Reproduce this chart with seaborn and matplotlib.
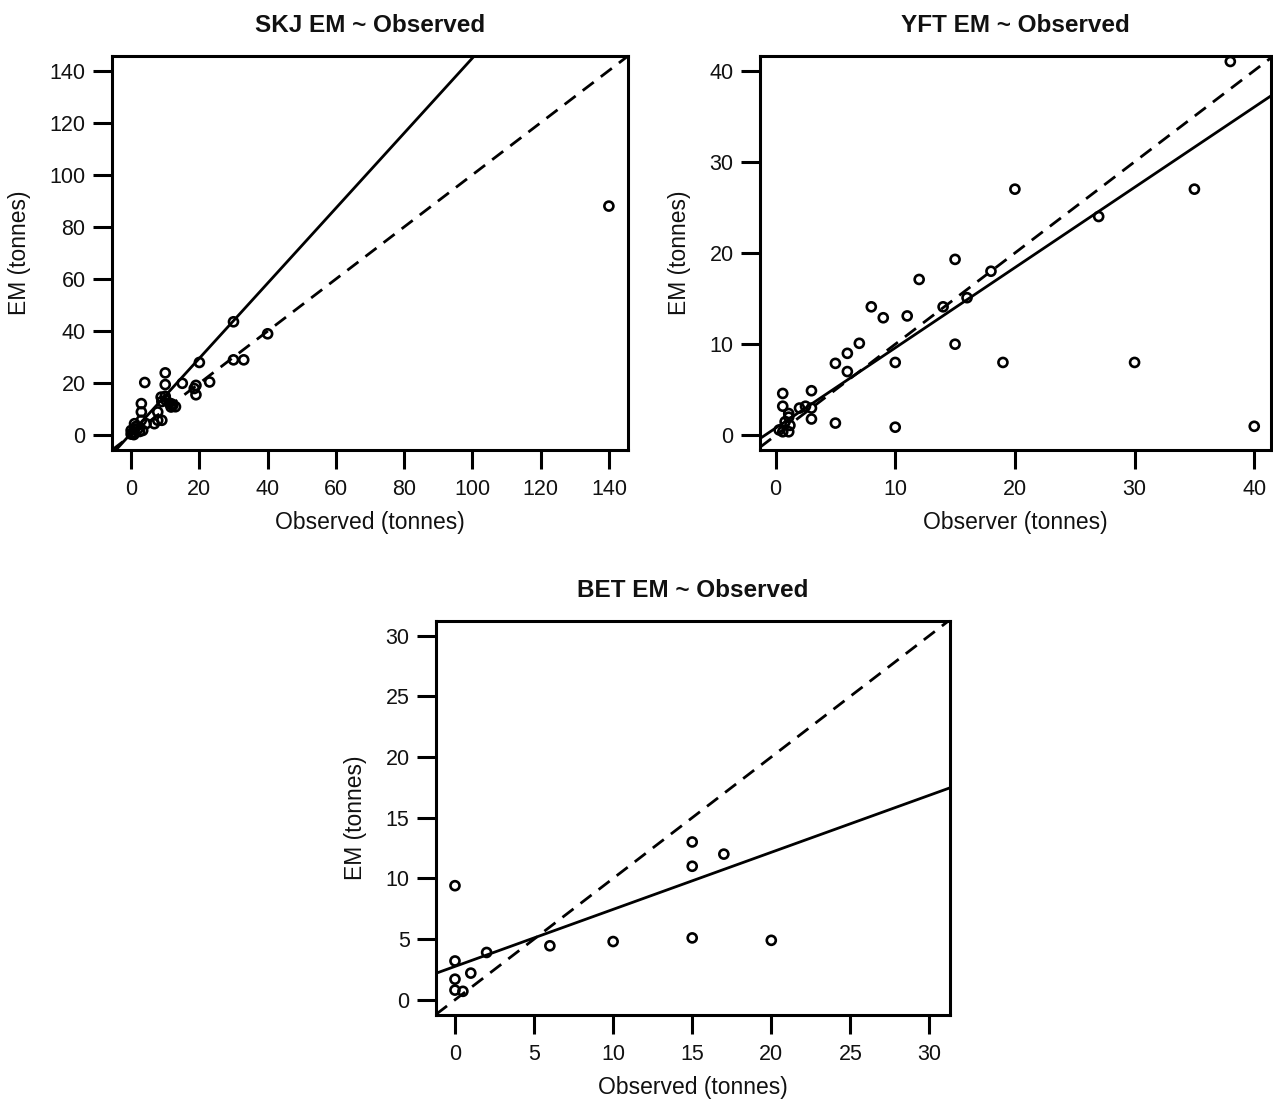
import matplotlib
matplotlib.use("Agg")
import matplotlib.pyplot as plt
import seaborn as sns
import pandas as pd

sns.set_style("white")
plt.rcParams['font.family'] = ['Liberation Sans', 'DejaVu Sans']

# ---- data ----
skj_obs = [140, 30, 40, 30, 33, 23, 20, 19, 19, 18.5, 15, 10, 10, 4, 8.8, 10.2, 11.2, 12.2, 11.7,
           10, 9, 3, 3, 7.8, 7.8, 6.8, 9, 3, 3.4, 1, 0, 0, 4.4, 0.5, 1, 2, 0.3, 1.5, 0.8, 2.5, 12, 13]
skj_em = [88, 43.6, 39, 29, 29, 20.5, 28, 19.2, 15.6, 18, 20, 24, 19.5, 20.3, 14.7, 13.5, 12.4, 11.5, 10.9,
          15, 13, 12.2, 9, 9, 5.8, 4.5, 5.8, 5.8, 1.9, 4.5, 1.9, 0.5, 4.5, 1, 2.5, 2.5, 0.8, 3.5, 0.3, 1.5, 12, 11]

yft_obs = [38, 20, 35, 27, 19, 30, 40, 15, 18, 12, 16, 14, 8, 9, 11, 7, 15, 6, 5, 10, 6, 0.6, 3, 0.6,
           2, 2.5, 3, 1.1, 1.1, 3, 5, 10, 1.2, 0.3, 0.6, 1.1, 0.8]
yft_em = [41, 27, 27, 24, 8, 8, 1, 19.3, 18, 17.1, 15.1, 14.1, 14.1, 12.9, 13.1, 10.1, 10, 9, 7.9, 8, 7,
          4.6, 4.9, 3.2, 3, 3.2, 3, 2.4, 2.0, 1.8, 1.35, 0.9, 1.1, 0.6, 0.4, 0.4, 1.5]

bet_obs = [0, 0, 0, 0, 0.5, 1, 2, 6, 10, 15, 15, 17, 15, 20]
bet_em = [9.4, 3.2, 1.7, 0.8, 0.7, 2.2, 3.9, 4.45, 4.8, 13, 11, 12, 5.1, 4.9]

# fitted lines (intercept, slope)
skj_fit = (0.8, 1.44)
yft_fit = (0.8, 0.88)
bet_fit = (2.75, 0.47)

panels = [
    dict(title="SKJ EM ~ Observed", x=skj_obs, y=skj_em, fit=skj_fit,
         xlabel="Observed (tonnes)", ticks=[0, 20, 40, 60, 80, 100, 120, 140],
         lim=(-5.6, 145.6), pos=[112, 56, 628, 450]),
    dict(title="YFT EM ~ Observed", x=yft_obs, y=yft_em, fit=yft_fit,
         xlabel="Observer (tonnes)", ticks=[0, 10, 20, 30, 40],
         lim=(-1.3, 41.4), ylim=(-1.6, 41.6), pos=[760, 56, 1271, 450]),
    dict(title="BET EM ~ Observed", x=bet_obs, y=bet_em, fit=bet_fit,
         xlabel="Observed (tonnes)", ticks=[0, 5, 10, 15, 20, 25, 30],
         lim=(-1.2, 31.3), ylim=(-1.25, 31.2), pos=[436, 621, 950, 1015]),
]

W, H = 1273, 1102
fig = plt.figure(figsize=(W / 100, H / 100), dpi=100)

for p in panels:
    l, t, r, b = p["pos"]
    ax = fig.add_axes([l / W, 1 - b / H, (r - l) / W, (b - t) / H])
    df = pd.DataFrame({"obs": p["x"], "em": p["y"]})
    sns.scatterplot(data=df, x="obs", y="em", ax=ax, marker="o", s=42,
                    facecolor="none", edgecolor="black", linewidth=1.9, zorder=3)
    ax.axline((0, 0), slope=1, color="black", lw=2.0, ls=(0, (5, 3.2)), zorder=2)
    ax.axline((0, p["fit"][0]), slope=p["fit"][1], color="black", lw=2.0, zorder=2)
    ax.set_xlim(*p["lim"])
    ax.set_ylim(*p.get("ylim", p["lim"]))
    ax.set_xticks(p["ticks"])
    ax.set_yticks(p["ticks"])
    ax.tick_params(axis="both", direction="out", length=14, width=2.2, labelsize=15.5,
                   color="black", labelcolor="#111111", bottom=True, left=True)
    ax.tick_params(axis="x", pad=7)
    ax.tick_params(axis="y", pad=5)
    for s in ax.spines.values():
        s.set_visible(True)
        s.set_linewidth(2.2)
        s.set_color("black")
    ax.set_xlabel(p["xlabel"], fontsize=16.5, labelpad=8, color="#111111")
    ax.set_ylabel("EM (tonnes)", fontsize=16.5, labelpad=13, color="#111111")
    ax.set_title(p["title"], fontsize=17.5, fontweight="bold", pad=17, color="#111111")
    ax.grid(False)

fig.savefig("out.png", dpi=100)
